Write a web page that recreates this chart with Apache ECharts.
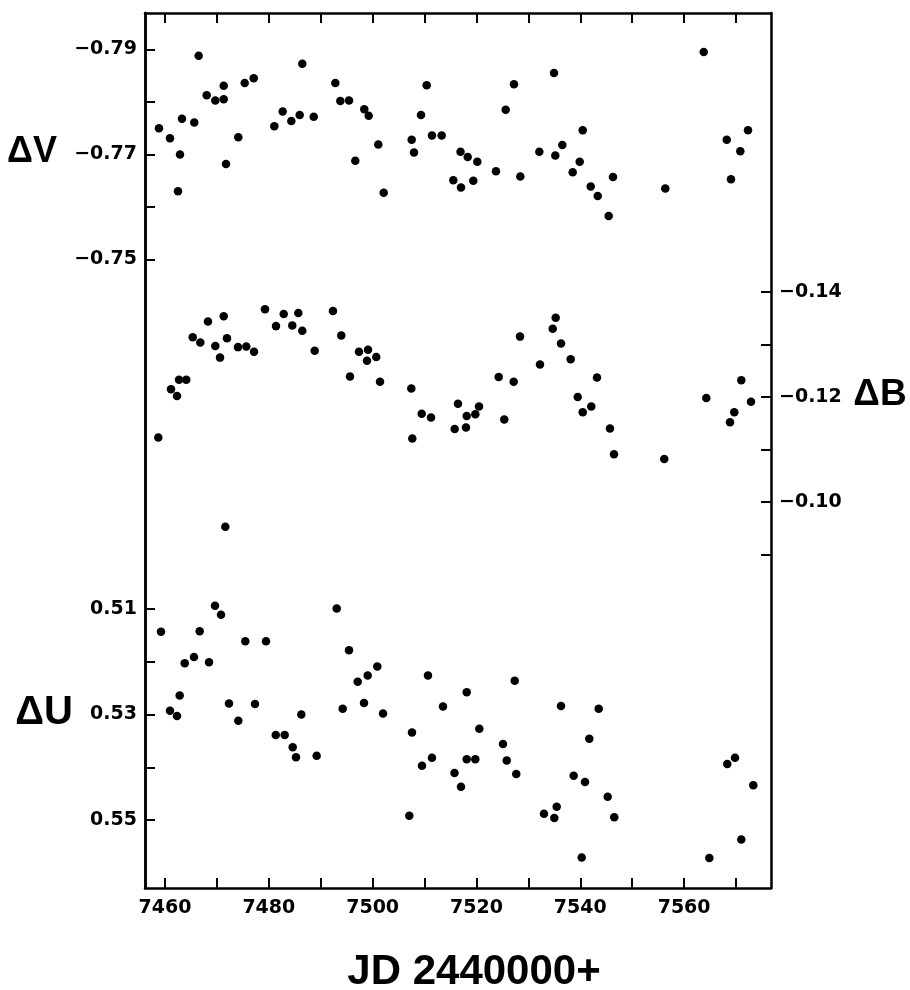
<!DOCTYPE html>
<html>
<head>
<meta charset="utf-8">
<script src="https://cdn.jsdelivr.net/npm/echarts@6/dist/echarts.min.js"></script>
<style>
html,body{margin:0;padding:0;background:#fff;}
#chart{width:910px;height:990px;}
</style>
</head>
<body>
<div id="chart"></div>
<script>
// ---- data (JD - 2440000, magnitude differences) ----
var jdV = [7458.84, 7460.96, 7462.89, 7462.50, 7463.27, 7465.64, 7466.49, 7468.03, 7469.69, 7471.31, 7471.31, 7471.75, 7474.12, 7475.35, 7477.09, 7481.06, 7482.67, 7484.33, 7485.95, 7486.45, 7488.65, 7492.81, 7493.77, 7495.45, 7496.66, 7498.39, 7499.24, 7501.09, 7502.13, 7507.52, 7507.97, 7509.32, 7510.41, 7511.43, 7513.30, 7515.54, 7517.02, 7516.93, 7518.31, 7519.39, 7520.16, 7523.76, 7525.63, 7527.23, 7528.45, 7532.11, 7534.94, 7535.19, 7536.54, 7538.54, 7539.89, 7540.47, 7542.01, 7543.36, 7545.47, 7546.30, 7556.38, 7563.78, 7568.21, 7569.03, 7570.83, 7572.31];
var dV = [-0.7750, -0.7731, -0.7700, -0.7630, -0.7768, -0.7761, -0.7888, -0.7813, -0.7803, -0.7805, -0.7831, -0.7682, -0.7733, -0.7836, -0.7845, -0.7754, -0.7782, -0.7764, -0.7775, -0.7873, -0.7772, -0.7836, -0.7802, -0.7803, -0.7688, -0.7786, -0.7774, -0.7719, -0.7627, -0.7728, -0.7704, -0.7775, -0.7832, -0.7736, -0.7736, -0.7651, -0.7637, -0.7705, -0.7695, -0.7650, -0.7686, -0.7668, -0.7785, -0.7834, -0.7658, -0.7705, -0.7855, -0.7698, -0.7718, -0.7666, -0.7686, -0.7746, -0.7639, -0.7621, -0.7583, -0.7657, -0.7635, -0.7895, -0.7728, -0.7653, -0.7706, -0.7746];

var jdB = [7458.71, 7461.16, 7462.31, 7462.70, 7464.10, 7465.34, 7466.80, 7468.28, 7469.69, 7470.60, 7471.31, 7471.94, 7474.06, 7475.66, 7477.15, 7479.26, 7481.38, 7482.87, 7484.52, 7485.68, 7486.45, 7488.84, 7492.36, 7493.96, 7495.64, 7497.37, 7499.11, 7498.91, 7500.70, 7501.42, 7507.45, 7507.64, 7509.45, 7511.24, 7516.44, 7515.81, 7518.12, 7517.98, 7519.78, 7520.49, 7524.28, 7525.36, 7527.17, 7528.39, 7532.24, 7534.69, 7535.26, 7536.29, 7538.15, 7539.50, 7540.47, 7542.12, 7543.22, 7545.72, 7546.50, 7556.18, 7564.28, 7568.84, 7569.67, 7571.02, 7572.89, 7471.62];
var dB = [-0.1123, -0.1215, -0.1202, -0.1233, -0.1233, -0.1314, -0.1304, -0.1344, -0.1297, -0.1275, -0.1354, -0.1312, -0.1295, -0.1296, -0.1286, -0.1367, -0.1335, -0.1358, -0.1336, -0.1360, -0.1326, -0.1288, -0.1364, -0.1317, -0.1239, -0.1286, -0.1290, -0.1269, -0.1276, -0.1229, -0.1216, -0.1121, -0.1168, -0.1161, -0.1187, -0.1139, -0.1164, -0.1142, -0.1167, -0.1182, -0.1238, -0.1157, -0.1229, -0.1315, -0.1262, -0.1330, -0.1351, -0.1302, -0.1272, -0.1200, -0.1171, -0.1182, -0.1237, -0.1140, -0.1091, -0.1082, -0.1198, -0.1152, -0.1171, -0.1232, -0.1191, -0.0953];

var jdU = [7459.23, 7460.96, 7462.31, 7462.83, 7463.80, 7465.59, 7466.68, 7468.48, 7469.63, 7470.79, 7472.33, 7474.12, 7475.47, 7477.34, 7479.46, 7481.33, 7483.06, 7484.60, 7485.24, 7486.26, 7489.22, 7493.08, 7494.23, 7495.45, 7497.12, 7498.34, 7499.05, 7500.90, 7502.00, 7507.06, 7507.58, 7509.51, 7510.66, 7511.43, 7513.55, 7515.77, 7517.02, 7518.12, 7520.55, 7518.12, 7519.78, 7525.11, 7525.83, 7527.37, 7527.67, 7533.01, 7535.00, 7535.46, 7536.29, 7538.73, 7540.27, 7540.91, 7541.74, 7543.55, 7545.28, 7546.55, 7564.86, 7568.32, 7569.81, 7571.02, 7573.33];
var dU = [0.5143, 0.5293, 0.5303, 0.5264, 0.5203, 0.5191, 0.5142, 0.5201, 0.5094, 0.5111, 0.5279, 0.5312, 0.5161, 0.5280, 0.5161, 0.5339, 0.5339, 0.5362, 0.5381, 0.5300, 0.5378, 0.5099, 0.5289, 0.5178, 0.5238, 0.5278, 0.5226, 0.5209, 0.5298, 0.5492, 0.5334, 0.5397, 0.5226, 0.5382, 0.5285, 0.5411, 0.5437, 0.5258, 0.5327, 0.5385, 0.5385, 0.5356, 0.5387, 0.5236, 0.5413, 0.5488, 0.5496, 0.5475, 0.5284, 0.5416, 0.5571, 0.5428, 0.5346, 0.5289, 0.5456, 0.5495, 0.5572, 0.5394, 0.5382, 0.5537, 0.5434];

// ---- ticks and labels ----
var xTicks = [7460, 7470, 7480, 7490, 7500, 7510, 7520, 7530, 7540, 7550, 7560, 7570];
var xLabels = [7460, 7480, 7500, 7520, 7540, 7560];
var vTicks = [-0.79, -0.78, -0.77, -0.76, -0.75];
var vLabels = [-0.79, -0.77, -0.75];
var bTicks = [-0.14, -0.13, -0.12, -0.11, -0.10, -0.09];
var bLabels = [-0.14, -0.12, -0.10];
var uTicks = [0.51, 0.52, 0.53, 0.54, 0.55];
var uLabels = [0.51, 0.53, 0.55];

function pairs(xs, ys) { return xs.map(function (x, i) { return [x, ys[i]]; }); }

var INK = '#000';
var LW = 2.5;
var tickFont = { fontFamily: 'DejaVu Sans', fontWeight: 'bold', fontSize: 19, color: INK };
function fmt2(v) { return v < 0 ? '\u2212' + Math.abs(v).toFixed(2) : v.toFixed(2); }

function yAx(pos, min, max, ticks, labels) {
  return {
    type: 'value', position: pos, inverse: true, min: min, max: max,
    splitLine: { show: false },
    axisLine: { show: true, onZero: false, lineStyle: { color: INK, width: LW } },
    axisTick: { show: true, inside: true, length: 10, customValues: ticks, lineStyle: { color: INK, width: 2 } },
    axisLabel: Object.assign({ show: true, margin: 8, customValues: labels, formatter: fmt2 }, tickFont)
  };
}

var dotStyle = { color: INK, opacity: 1 };

var chart = echarts.init(document.getElementById('chart'), null, { renderer: 'canvas' });
chart.setOption({
  animation: false,
  backgroundColor: '#fff',
  grid: { left: 145, top: 13, width: 626, height: 875, containLabel: false, outerBoundsMode: 'none' },
  xAxis: [
    {
      type: 'value', position: 'bottom', min: 7456.147, max: 7576.74,
      splitLine: { show: false },
      axisLine: { show: true, onZero: false, lineStyle: { color: INK, width: LW } },
      axisTick: { show: true, inside: true, length: 10, customValues: xTicks, lineStyle: { color: INK, width: 2 } },
      axisLabel: Object.assign({ show: true, margin: 11, customValues: xLabels, formatter: function (v) { return String(v); } }, tickFont)
    },
    {
      type: 'value', position: 'top', min: 7456.147, max: 7576.74,
      splitLine: { show: false },
      axisLine: { show: true, onZero: false, lineStyle: { color: INK, width: LW } },
      axisTick: { show: true, inside: true, length: 10, customValues: xTicks, lineStyle: { color: INK, width: 2 } },
      axisLabel: { show: false }
    }
  ],
  yAxis: [
    yAx('left', -0.79695, -0.63029, vTicks, vLabels),
    yAx('right', -0.19314, -0.02648, bTicks, bLabels),
    yAx('left', 0.39701, 0.56289, uTicks, uLabels)
  ],
  graphic: [
    { type: 'text', x: 32, y: 152, style: { text: 'ΔV', font: 'bold 36px "Liberation Sans"', fill: INK, textAlign: 'center', textVerticalAlign: 'middle' } },
    { type: 'text', x: 44, y: 713, style: { text: 'ΔU', font: 'bold 40px "Liberation Sans"', fill: INK, textAlign: 'center', textVerticalAlign: 'middle' } },
    { type: 'text', x: 880, y: 395, style: { text: 'ΔB', font: 'bold 37px "Liberation Sans"', fill: INK, textAlign: 'center', textVerticalAlign: 'middle' } },
    { type: 'text', x: 474, y: 972, style: { text: 'JD 2440000+', font: 'bold 42px "Liberation Sans"', fill: INK, textAlign: 'center', textVerticalAlign: 'middle' } }
  ],
  series: [
    { name: 'ΔV', type: 'scatter', xAxisIndex: 0, yAxisIndex: 0, symbol: 'circle', symbolSize: 8.5, itemStyle: dotStyle, data: pairs(jdV, dV) },
    { name: 'ΔB', type: 'scatter', xAxisIndex: 0, yAxisIndex: 1, symbol: 'circle', symbolSize: 8.5, itemStyle: dotStyle, data: pairs(jdB, dB) },
    { name: 'ΔU', type: 'scatter', xAxisIndex: 0, yAxisIndex: 2, symbol: 'circle', symbolSize: 8.5, itemStyle: dotStyle, data: pairs(jdU, dU) }
  ]
});
</script>
</body>
</html>
